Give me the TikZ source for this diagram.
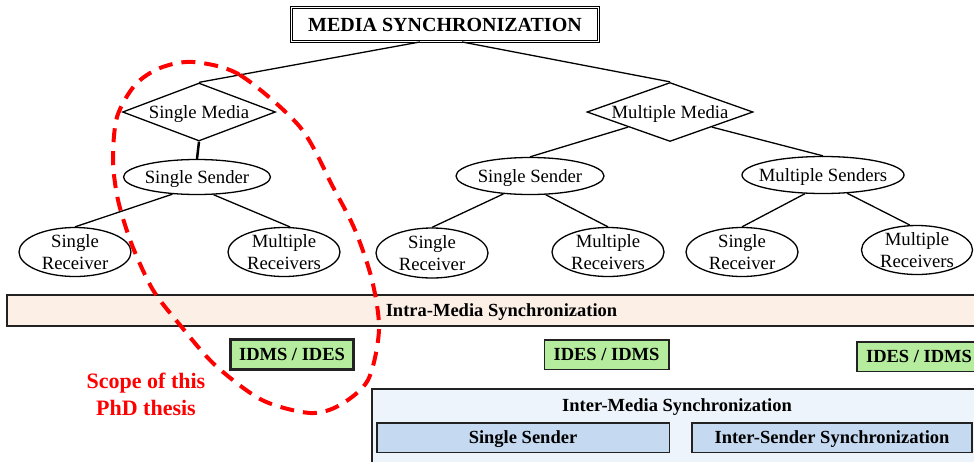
\documentclass[tikz,border=0pt]{standalone}
\usepackage{fontspec}
\setmainfont{Liberation Serif}
\usetikzlibrary{shapes.geometric}

\definecolor{intrafill}{HTML}{FCF0E6}
\definecolor{idfill}{HTML}{B5EC9E}
\definecolor{interfill}{HTML}{EDF4FB}
\definecolor{senderfill}{HTML}{C5DAF0}
\definecolor{boxline}{HTML}{222222}
\definecolor{scopered}{HTML}{FF0000}

\begin{document}
\begin{tikzpicture}[x=1pt, y=-1pt,
    every node/.style={inner sep=0pt},
    txt/.style={font=\fontsize{18.7}{21.5}\selectfont},
    btxt/.style={font=\fontsize{18.5}{21.5}\selectfont\bfseries},
    oneline/.style={text height=12.5pt, text depth=0pt},
    oval/.style={draw, ellipse, line width=1.3pt, inner sep=-8pt, align=center, txt},
    choice/.style={draw, diamond, line width=1.3pt, txt, oneline},
    link/.style={line width=1.3pt},
    band/.style={draw=boxline, line width=1.5pt, rectangle, btxt, oneline},
  ]
  \useasboundingbox (0,0) rectangle (974,461);
  \clip (0,0) rectangle (974,461);

  % taxonomy
  \node [draw, double, double distance=1.5pt, line width=0.9pt, minimum width=307pt, minimum height=34pt, font=\fontsize{20}{24}\selectfont\bfseries, text height=13.3pt, text depth=0pt] (title) at (445,24.5) {MEDIA SYNCHRONIZATION};

  \node [choice, shape aspect=2.6, minimum width=153pt, minimum height=58pt] (sm) at (199,112) {Single Media};
  \node [choice, shape aspect=2.8, minimum width=166pt, minimum height=59pt] (mm) at (670,112) {Multiple Media};

  \node [oval, oneline, minimum width=147pt, minimum height=35pt] (ss1) at (197,177) {Single Sender};
  \node [oval, oneline, minimum width=148pt, minimum height=37pt] (ss2) at (530,176) {Single Sender};
  \node [oval, oneline, minimum width=162pt, minimum height=37pt] (ms) at (823,175) {Multiple Senders};

  \node [oval, minimum width=112pt, minimum height=49pt] (sr1) at (75,252) {Single\\Receiver};
  \node [oval, minimum width=112pt, minimum height=49pt] (mr1) at (284,252) {Multiple\\Receivers};
  \node [oval, minimum width=112pt, minimum height=50pt] (sr2) at (432,253) {Single\\Receiver};
  \node [oval, minimum width=112pt, minimum height=49pt] (mr2) at (608,252) {Multiple\\Receivers};
  \node [oval, minimum width=112pt, minimum height=49pt] (sr3) at (742,252) {Single\\Receiver};
  \node [oval, minimum width=111pt, minimum height=49pt] (mr3) at (917,250) {Multiple\\Receivers};

  \draw [link] ([xshift=-25pt]title.south) -- (sm.north);
  \draw [link] ([xshift=17pt]title.south) -- (mm.north);
  \draw [line width=2.5pt] (sm.south) -- (ss1.north);
  \draw [link] (mm.south west) -- (ss2.north);
  \draw [link] (mm.south east) -- (ms.north);
  \draw [link] (ss1.215) -- (sr1.north);
  \draw [link] (ss1.313) -- (mr1.76);
  \draw [link] (ss2.214) -- (sr2.north);
  \draw [link] (ss2.310) -- (mr2.north);
  \draw [link] (ms.226) -- (sr3.north);
  \draw [link] (ms.323) -- (mr3.106);

  % synchronization bands
  \node [band, fill=intrafill, minimum width=989pt, minimum height=31pt] (intra) at (501.5,310.5) {Intra-Media Synchronization};
  \node [band, fill=idfill, line width=3.5pt, minimum width=123pt, minimum height=30pt] (id1) at (292,354.5) {IDMS / IDES};
  \node [band, fill=idfill, minimum width=124.5pt, minimum height=29.5pt] (id2) at (606.5,354.5) {IDES / IDMS};
  \node [band, fill=idfill, minimum width=124.5pt, minimum height=29.5pt] (id3) at (919,356.5) {IDES / IDMS};

  \node [band, fill=interfill, minimum width=612pt, minimum height=100pt, anchor=north west] (inter) at (371,388) {};
  \node [btxt, oneline] (intertitle) at (677,405) {Inter-Media Synchronization};
  \node [band, fill=senderfill, minimum width=292.5pt, minimum height=29.5pt] (single) at (523,437.5) {Single Sender};
  \node [band, fill=senderfill, minimum width=280pt, minimum height=29.5pt] (isync) at (832,437.5) {Inter-Sender Synchronization};

  % scope
  \node [font=\fontsize{22}{27}\selectfont\bfseries, text=scopered, align=center] (scope) at (146,394) {Scope of this\\PhD thesis};
  \draw [scopered, line width=4pt, dash pattern=on 14pt off 9pt] plot [smooth cycle] coordinates {
    (193,62) (240,75) (300,127) (333,187) (355,230) (372,280) (379,330) (368,380)
    (340,405) (310,413) (262,400) (215,365) (180,325) (153,290) (132,245) (118,200)
    (113,160) (117,117) (135,85) (160,68)};
\end{tikzpicture}
\end{document}
